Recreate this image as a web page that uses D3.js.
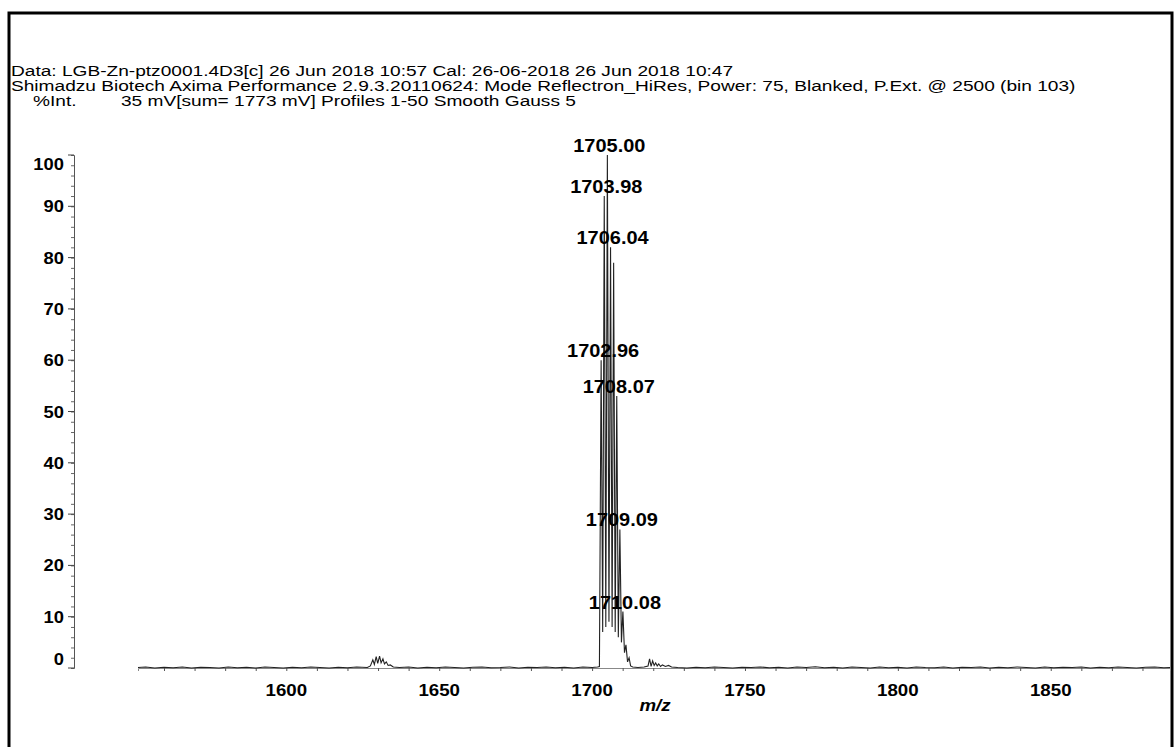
<!DOCTYPE html>
<html>
<head>
<meta charset="utf-8">
<script src="https://cdn.jsdelivr.net/npm/d3@7"></script>
<style>
  body { margin: 0; background: #fff; }
  svg { display: block; font-family: "Liberation Sans", Arial, sans-serif; }
  svg text { fill: #000; }
</style>
</head>
<body>
<svg id="spectrum" width="1175" height="747"></svg>
<script>
// header text lines
const headerLines = [
    'Data: LGB-Zn-ptz0001.4D3[c] 26 Jun 2018 10:57 Cal: 26-06-2018 26 Jun 2018 10:47',
    'Shimadzu Biotech Axima Performance 2.9.3.20110624: Mode Reflectron_HiRes, Power: 75, Blanked, P.Ext. @ 2500 (bin 103)'
];
const yAxisTitle = '%Int.';
const acqInfo = '35 mV[sum= 1773 mV]  Profiles 1-50 Smooth Gauss 5';
const xAxisTitle = 'm/z';

const yTicks = [0, 10, 20, 30, 40, 50, 60, 70, 80, 90, 100];
const xTicks = [1600, 1650, 1700, 1750, 1800, 1850];

// profile points (m/z, %Int)
const spectrumMz = [
    1551.5, 1554, 1557, 1560, 1563, 1566, 1569, 1572, 1575, 1578, 1581, 1584, 1587, 1590, 1593, 1596, 1599, 1602, 1605,
    1608, 1611, 1614, 1617, 1620, 1623, 1626.5,
    1627.5, 1628.3, 1628.8, 1629.4, 1629.9, 1630.5, 1631.0, 1631.6, 1632.1, 1632.7, 1633.3, 1634.0, 1635.0,
    1637, 1640, 1643, 1646, 1649, 1652, 1655, 1658, 1661, 1664, 1667, 1670, 1673, 1676, 1679, 1682, 1685, 1688, 1691,
    1694, 1697, 1700, 1701.8,
    1702.4, 1702.96, 1703.47, 1703.98, 1704.49, 1705.00, 1705.52, 1706.04, 1706.55, 1707.05, 1707.56, 1708.07,
    1708.58, 1709.09, 1709.60, 1710.08, 1710.60, 1711.08, 1711.60, 1712.10, 1712.60, 1713.3,
    1715, 1717, 1718.3, 1718.8, 1719.3, 1719.8, 1720.3, 1720.8, 1721.3, 1721.8, 1722.4, 1723.0, 1724.0, 1725.0, 1726.0,
    1728, 1731, 1734, 1737, 1740, 1743, 1746, 1749, 1752, 1755, 1758, 1761, 1764, 1767, 1770, 1773, 1776, 1779, 1782,
    1785, 1788, 1791, 1794, 1797, 1800, 1803, 1806, 1809, 1812, 1815, 1818, 1821, 1824, 1827, 1830, 1833, 1836, 1839,
    1842, 1845, 1848, 1851, 1854, 1857, 1860, 1863, 1866, 1869, 1872, 1875, 1878, 1881, 1884, 1887, 1889
];
const spectrumInt = [
    0.1, 0.2, 0.0, 0.15, 0.05, 0.2, 0.0, 0.15, 0.1, 0.0, 0.2, 0.05, 0.15, 0.0, 0.2, 0.1, 0.0, 0.15, 0.05,
    0.2, 0.1, 0.0, 0.15, 0.05, 0.2, 0.1,
    0.4, 1.6, 0.7, 2.2, 0.9, 2.3, 1.0, 1.8, 0.8, 1.2, 0.5, 0.6, 0.2,
    0.1, 0.2, 0.0, 0.15, 0.05, 0.2, 0.1, 0.0, 0.15, 0.2, 0.05, 0.1, 0.2, 0.0, 0.15, 0.1, 0.2, 0.05, 0.15,
    0.0, 0.2, 0.1, 0.2,
    0.3, 60, 7, 92, 8, 100, 9, 82, 8, 79, 7, 53,
    6, 27, 5, 11, 3, 4.5, 1.2, 2.0, 0.4, 0.2,
    0.1, 0.2, 0.4, 1.8, 0.3, 1.4, 0.5, 1.0, 0.4, 0.8, 0.3, 0.6, 0.3, 0.5, 0.2,
    0.1, 0.0, 0.15, 0.05, 0.2, 0.1, 0.0, 0.15, 0.1, 0.2, 0.05, 0.15, 0.0, 0.2, 0.1, 0.25, 0.05, 0.15, 0.0,
    0.2, 0.1, 0.0, 0.2, 0.05, 0.15, 0.0, 0.2, 0.1, 0.05, 0.2, 0.0, 0.15, 0.1, 0.2, 0.0, 0.15, 0.05, 0.2,
    0.1, 0.0, 0.2, 0.05, 0.15, 0.1, 0.2, 0.0, 0.15, 0.05, 0.2, 0.1, 0.0, 0.15, 0.2, 0.05, 0.1
];

// labelled peaks
const peakLabels = ['1705.00', '1703.98', '1706.04', '1702.96', '1708.07', '1709.09', '1710.08'];
const peakMz = [1705.00, 1703.98, 1706.04, 1702.96, 1708.07, 1709.09, 1710.08];
const peakInt = [100, 92, 82, 60, 53, 27, 11];

const svg = d3.select('#spectrum');

// outer frame
svg.append('rect')
    .attr('x', 9).attr('y', 13)
    .attr('width', 1163).attr('height', 760)
    .attr('fill', 'none')
    .attr('stroke', '#000')
    .attr('stroke-width', 3);

// text helper, the original print is a bit wider than Arial
function putText(parent, x, y, str, size, sx, opts = {}) {
    return parent.append('text')
        .attr('transform', `translate(${x},${y}) scale(${sx},1)`)
        .attr('text-anchor', opts.anchor || 'start')
        .style('font-size', size + 'px')
        .style('font-weight', opts.bold ? 'bold' : 'normal')
        .style('font-style', opts.italic ? 'italic' : 'normal')
        .text(str);
}

// header
headerLines.forEach((t, i) => putText(svg, 11, 76 + i * 15, t, 14.5, 1.318));
putText(svg, 33, 106, yAxisTitle, 14.5, 1.318);
putText(svg, 121, 106, acqInfo, 14.5, 1.318);

const xScale = d3.scaleLinear().domain([1551.5, 1889]).range([138, 1170]);
const yScale = d3.scaleLinear().domain([0, 100]).range([668, 155]);

// y axis
const yAxis = svg.append('g').attr('transform', 'translate(74,0)');
yAxis.call(d3.axisLeft(yScale).ticks(50).tickSize(3).tickFormat(''))
    .call(g => g.select('.domain').attr('stroke', '#555'))
    .call(g => g.selectAll('.tick line').attr('stroke', '#666'));
yAxis.selectAll('.major')
    .data(yTicks)
    .join('line')
    .attr('x1', -6).attr('x2', 0)
    .attr('y1', d => yScale(d)).attr('y2', d => yScale(d))
    .attr('stroke', '#444');
yTicks.forEach(d => {
    const dy = d === 100 ? 15 : d === 0 ? -3 : 6;
    putText(yAxis, -10, yScale(d) + dy, d, 17, 1.08, { bold: true, anchor: 'end' });
});

// x axis
const xAxis = svg.append('g').attr('transform', 'translate(0,668)');
xAxis.call(d3.axisBottom(xScale).ticks(34).tickSize(3).tickFormat(''))
    .call(g => g.select('.domain').attr('stroke', '#888'))
    .call(g => g.selectAll('.tick line').attr('stroke', '#555'));
xTicks.forEach(d => {
    putText(xAxis, xScale(d), 28, d, 17, 1.1, { bold: true, anchor: 'middle' });
});

putText(svg, 655, 711, xAxisTitle, 17, 1.1, { bold: true, italic: true, anchor: 'middle' });

// spectrum trace
const points = spectrumMz.map((m, i) => [m, spectrumInt[i]]);
const line = d3.line()
    .x(d => xScale(d[0]))
    .y(d => yScale(d[1]));

svg.append('path')
    .datum(points)
    .attr('d', line)
    .attr('fill', 'none')
    .attr('stroke', '#222')
    .attr('stroke-width', 1.1);

// peak labels
peakLabels.forEach((lab, i) => {
    putText(svg, xScale(peakMz[i]) + 2, yScale(peakInt[i]) - 3, lab, 18.5, 1.08, { bold: true, anchor: 'middle' });
});
</script>
</body>
</html>
